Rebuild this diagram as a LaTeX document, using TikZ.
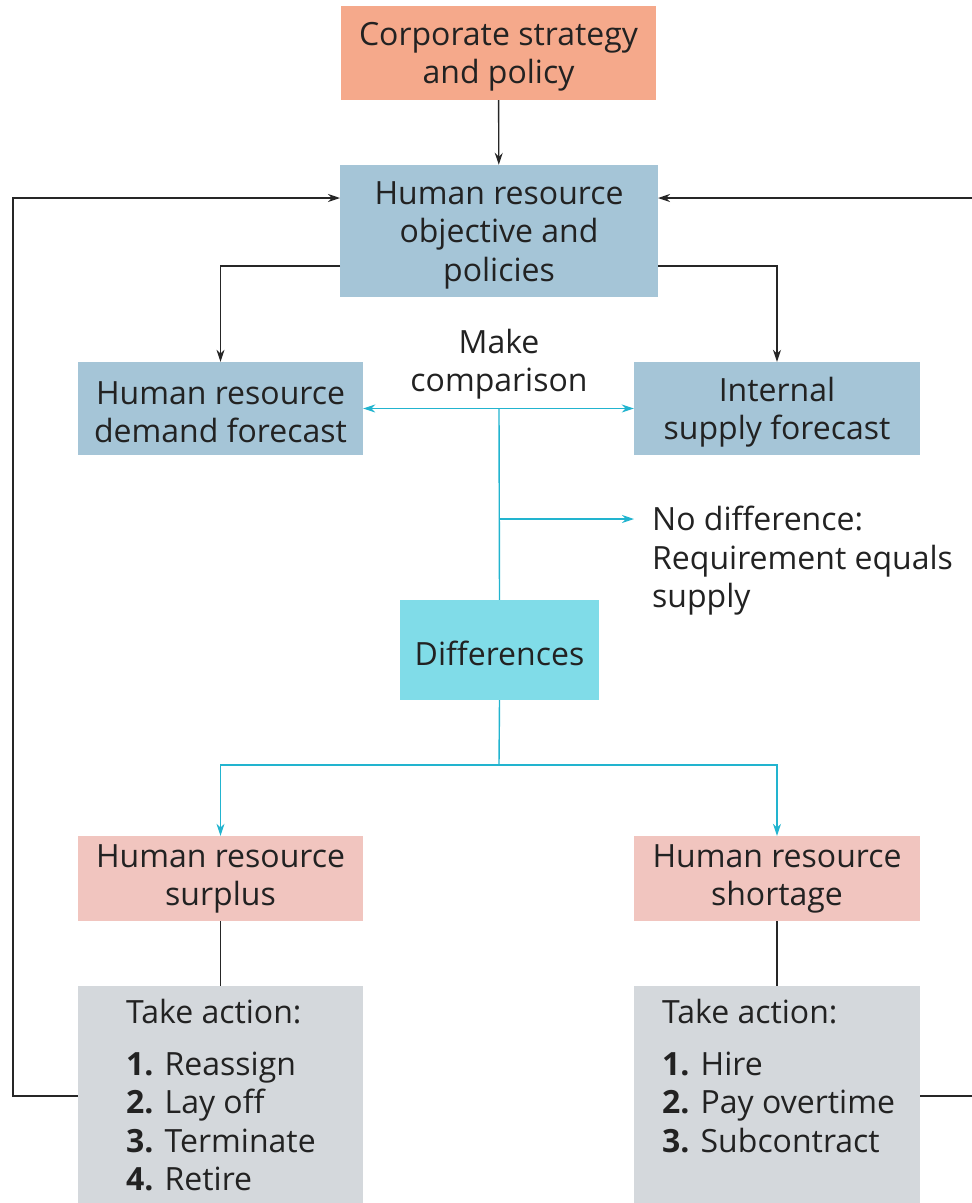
\documentclass[tikz,border=0pt]{standalone}
\usepackage{fontspec}
\setmainfont{Open Sans}
\usetikzlibrary{arrows.meta}
\definecolor{corp}{HTML}{F5A98B}
\definecolor{hrblue}{HTML}{A5C5D7}
\definecolor{diffc}{HTML}{80DCE8}
\definecolor{pinkc}{HTML}{F1C5BF}
\definecolor{grayc}{HTML}{D4D8DC}
\definecolor{cyanl}{HTML}{22B4CF}
\definecolor{txt}{HTML}{222222}
\begin{document}
\begin{tikzpicture}[x=1pt,y=-1pt,
  every node/.style={font=\fontsize{32}{38.5}\selectfont, text=txt, inner sep=0pt},
  box/.style={align=center},
  blk/.style={draw=black!85, line width=1.4pt},
  barr/.style={blk, -{Stealth[length=12pt,width=8pt]}},
  cln/.style={draw=cyanl, line width=1.4pt},
  carr/.style={cln, -{Stealth[length=12pt,width=8pt]}},
  cdarr/.style={cln, {Stealth[length=12pt,width=8pt]}-{Stealth[length=12pt,width=8pt]}}]
\useasboundingbox (0,0) rectangle (972,1203);

\node[box, fill=corp, minimum width=315pt, minimum height=94pt] (corp) at (498.5,53) {};
\node[box] (corpt) at (498.5,57) {Corporate strategy\\and policy};
\node[box, fill=hrblue, minimum width=318pt, minimum height=132pt] (obj) at (499,231) {};
\node[box] (objt) at (499,235) {Human resource\\objective and\\policies};
\node[box, fill=hrblue, minimum width=285pt, minimum height=93pt] (dem) at (220.5,408.5) {};
\node[box] (demt) at (220.5,412) {Human resource\\demand forecast};
\node[box, fill=hrblue, minimum width=286pt, minimum height=93pt] (sup) at (777,408.5) {};
\node[box] (supt) at (777,412) {Internal\\supply forecast};
\node[box] (mk) at (499,364) {Make\\comparison};
\node[align=left, anchor=west] (nodiff) at (652,561) {No difference:\\Requirement equals\\supply};
\node[box, fill=diffc, minimum width=199pt, minimum height=100pt] (diff) at (499.5,650) {};
\node[box] (difft) at (499.5,653) {Differences};
\node[box, fill=pinkc, minimum width=285pt, minimum height=85pt] (surp) at (220.5,878.5) {};
\node[box] (surpt) at (220.5,879) {Human resource\\surplus};
\node[box, fill=pinkc, minimum width=286pt, minimum height=85pt] (short) at (777,878.5) {};
\node[box] (shortt) at (777,879) {Human resource\\shortage};
\node[fill=grayc, minimum width=285pt, minimum height=230pt, anchor=north] (actL) at (220.5,986) {};
\node[fill=grayc, minimum width=286pt, minimum height=230pt, anchor=north] (actR) at (777,986) {};
\node[align=left, anchor=north west] (actLt) at (126,999) {Take action:\\[13pt]\textbf{1.} Reassign\\\textbf{2.} Lay off\\\textbf{3.} Terminate\\\textbf{4.} Retire};
\node[align=left, anchor=north west] (actRt) at (662,999) {Take action:\\[13pt]\textbf{1.} Hire\\\textbf{2.} Pay overtime\\\textbf{3.} Subcontract};

\coordinate (oL) at (340,266);
\coordinate (oR) at (658,266);
\coordinate (iL) at (340,198);
\coordinate (iR) at (658,198);
\coordinate (fL) at (13,1096);
\coordinate (fR) at (976,1096);
\coordinate (cmp) at (499,408);
\coordinate (br) at (499,519);
\coordinate (ndA) at (634,519);
\coordinate (sp) at (499,765);

\draw[barr] (corp) -- (obj);
\draw[barr] (oL) -| (dem.north);
\draw[barr] (oR) -| (sup.north);
\draw[barr] (fL -| actL.west) -- (fL) |- (iL);
\draw[barr] (fR -| actR.east) -- (fR) |- (iR);

\draw[cdarr] (dem.east) -- (sup.west);
\draw[cln] (cmp) -- (diff.north);
\draw[carr] (br) -- (ndA);
\draw[cln] (diff.south) -- (sp);
\draw[carr] (sp) -| (surp.north);
\draw[carr] (sp) -| (short.north);

\draw[blk] (surp.south) -- (actL.north);
\draw[blk] (short.south) -- (actR.north);
\end{tikzpicture}
\end{document}
